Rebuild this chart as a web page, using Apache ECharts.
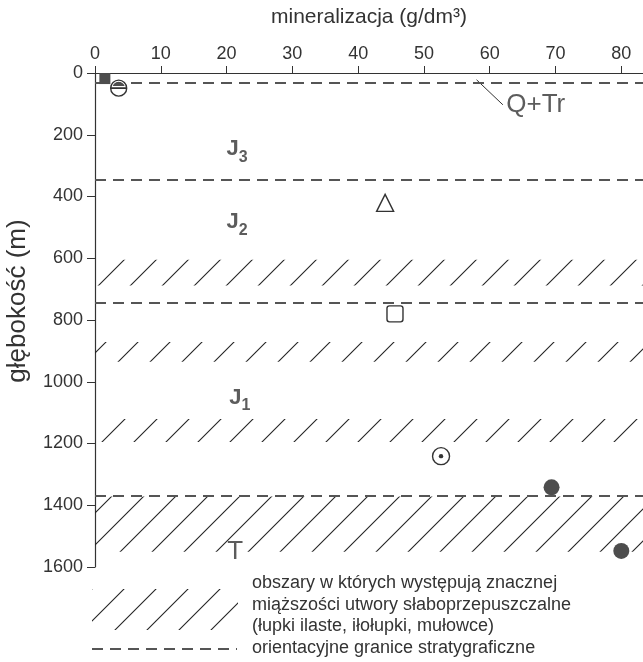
<!DOCTYPE html>
<html>
<head>
<meta charset="utf-8">
<script src="https://cdn.jsdelivr.net/npm/echarts@6/dist/echarts.min.js"></script>
<style>
  html, body { margin: 0; padding: 0; background: #fff; }
  #chart { width: 643px; height: 662px; }
</style>
</head>
<body>
<div id="chart"></div>
<script>
const xTicks = [0, 10, 20, 30, 40, 50, 60, 70, 80];
const xMax = 83.3;
const depthMax = 1600;

// samples: mineralization (g/dm3) vs depth (m)
const sampleMineralization = [1.5, 3.6, 44.1, 45.6, 52.6, 69.4, 80.0];
const sampleDepth = [18, 49, 424, 780, 1241, 1342, 1548];
const sampleMarker = ["filledSquare", "struckCircle", "triangle", "square", "dotCircle", "filledCircle", "filledCircle"];

// stratigraphic boundaries and low-permeability intervals (m)
const boundaryDepths = [30, 345, 745, 1370];
const lowPermBands = [[605, 688], [871, 935], [1121, 1195], [1372, 1551]];

// unit labels
const unitNames = ["J|3", "J|2", "J|1", "T|"];
const unitX = [21.6, 21.6, 22.0, 21.3];
const unitDepth = [255, 492, 1059, 1552];
const qtrLabel = { name: "Q+Tr", x: 67.0, depth: 103 };
const qtrLeader = [[58.0, 22], [62.0, 103]];

const FONT = "'Liberation Sans', Arial, sans-serif";
const INK = "#333";
const GREY = "#4d4d4d";

function hatchPattern() {
  const s = 32;
  const c = document.createElement("canvas");
  c.width = s;
  c.height = s;
  const ctx = c.getContext("2d");
  ctx.strokeStyle = "#222";
  ctx.lineWidth = 1.1;
  [0, s, 2 * s].forEach((k) => {
    ctx.beginPath();
    ctx.moveTo(-2, k + 2);
    ctx.lineTo(k + 2, -2);
    ctx.stroke();
  });
  return { image: c, repeat: "repeat" };
}
const hatch = hatchPattern();

function segmentPoints(cx, cy, r, chordDy) {
  // circular segment above the chord at cy + chordDy
  const a = Math.asin(chordDy / r);
  const pts = [];
  for (let i = 0; i <= 16; i++) {
    const t = Math.PI - a + (Math.PI + 2 * a) * (i / 16);
    pts.push([cx + r * Math.cos(t), cy + r * Math.sin(t)]);
  }
  return pts;
}

function renderMarker(params, api) {
  const p = api.coord([api.value(0), api.value(1)]);
  const x = p[0], y = p[1];
  const kind = sampleMarker[params.dataIndex];
  const line = { stroke: INK, fill: "#fff", lineWidth: 1.4 };
  let children = [];
  if (kind === "filledSquare") {
    children = [{ type: "rect", shape: { x: x - 5.5, y: y - 5.5, width: 11, height: 11 }, style: { fill: GREY } }];
  } else if (kind === "struckCircle") {
    children = [
      { type: "circle", shape: { cx: x, cy: y, r: 8 }, style: line },
      { type: "polygon", shape: { points: segmentPoints(x, y, 6.3, -2.2) }, style: { fill: GREY } },
      { type: "line", shape: { x1: x - 8, y1: y, x2: x + 8, y2: y }, style: { stroke: INK, lineWidth: 1.8 } },
    ];
  } else if (kind === "triangle") {
    children = [{ type: "polygon", shape: { points: [[x, y - 9.5], [x - 8.5, y + 7.5], [x + 8.5, y + 7.5]] }, style: line }];
  } else if (kind === "square") {
    children = [{ type: "rect", shape: { x: x - 8, y: y - 8, width: 16, height: 16, r: 2.5 }, style: line }];
  } else if (kind === "dotCircle") {
    children = [
      { type: "circle", shape: { cx: x, cy: y, r: 8.5 }, style: line },
      { type: "circle", shape: { cx: x, cy: y, r: 2.2 }, style: { fill: INK } },
    ];
  } else {
    children = [{ type: "circle", shape: { cx: x, cy: y, r: 8 }, style: { fill: GREY } }];
  }
  return { type: "group", children };
}

const chart = echarts.init(document.getElementById("chart"));

const legendLines = [
  "obszary w których występują znacznej",
  "miąższości utwory słaboprzepuszczalne",
  "(łupki ilaste, iłołupki, mułowce)",
];

const option = {
  backgroundColor: "#fff",
  animation: false,
  grid: { left: 95, top: 73, width: 548, height: 494, outerBoundsMode: "none", containLabel: false },
  xAxis: {
    type: "value",
    position: "top",
    min: 0,
    max: xMax,
    interval: 10,
    name: "mineralizacja (g/dm³)",
    nameLocation: "middle",
    nameGap: 45,
    nameTextStyle: { fontFamily: FONT, fontSize: 21, color: INK },
    axisLine: { lineStyle: { color: INK, width: 1.2 } },
    axisTick: { length: 7, customValues: xTicks, lineStyle: { color: INK } },
    axisLabel: {
      customValues: xTicks,
      margin: 10,
      fontFamily: FONT,
      fontSize: 18,
      color: INK,
      formatter: (v) => (v % 10 === 0 ? String(v) : ""),
    },
    splitLine: { show: false },
  },
  yAxis: {
    type: "value",
    inverse: true,
    min: 0,
    max: depthMax,
    interval: 200,
    axisLine: { show: true, lineStyle: { color: INK, width: 1.2 } },
    axisTick: { length: 8, lineStyle: { color: INK } },
    axisLabel: { margin: 12, fontFamily: FONT, fontSize: 18, color: INK, formatter: (v) => String(v) },
    splitLine: { show: false },
  },
  series: [
    {
      type: "line",
      data: [],
      silent: true,
      markArea: {
        silent: true,
        itemStyle: { color: hatch },
        data: lowPermBands.map((b) => [{ xAxis: 0, yAxis: b[0] }, { xAxis: xMax, yAxis: b[1] }]),
      },
      markLine: {
        silent: true,
        symbol: ["none", "none"],
        label: { show: false },
        lineStyle: { color: "#555", width: 2, type: [11, 7] },
        data: boundaryDepths.map((d) => ({ yAxis: d })),
      },
    },
    {
      type: "line",
      silent: true,
      symbol: "none",
      lineStyle: { color: INK, width: 1 },
      data: qtrLeader,
    },
    {
      type: "custom",
      renderItem: renderMarker,
      data: sampleMineralization.map((v, i) => [v, sampleDepth[i]]),
      z: 5,
    },
    {
      type: "scatter",
      silent: true,
      symbolSize: 0,
      data: unitNames.map((n, i) => ({ name: n, value: [unitX[i], unitDepth[i]] })),
      label: {
        show: true,
        position: "inside",
        formatter: (p) => {
          const parts = p.name.split("|");
          if (!parts[1]) return "{t|" + parts[0] + "}";
          return "{j|" + parts[0] + "}{s|" + parts[1] + "}";
        },
        rich: {
          j: { fontFamily: FONT, fontSize: 22, fontWeight: "bold", color: INK, verticalAlign: "bottom", padding: [0, 0, 5, 0] },
          s: { fontFamily: FONT, fontSize: 16, fontWeight: "bold", color: INK, verticalAlign: "bottom" },
          t: { fontFamily: FONT, fontSize: 26, color: INK },
        },
      },
    },
    {
      type: "scatter",
      silent: true,
      symbolSize: 0,
      data: [{ name: qtrLabel.name, value: [qtrLabel.x, qtrLabel.depth] }],
      label: { show: true, position: "inside", formatter: "{b}", fontFamily: FONT, fontSize: 26, color: INK },
    },
  ],
  graphic: [
    {
      type: "text",
      x: 18,
      y: 301,
      rotation: Math.PI / 2,
      style: { text: "głębokość (m)", font: "26px " + FONT, fill: INK, align: "center", verticalAlign: "middle" },
    },
    { type: "rect", left: 92, top: 589, shape: { width: 146, height: 41 }, style: { fill: hatch } },
    { type: "line", shape: { x1: 92, y1: 649, x2: 237, y2: 649 }, style: { stroke: "#555", lineWidth: 2, lineDash: [11, 7] } },
    ...legendLines.map((t, i) => ({
      type: "text",
      x: 252,
      y: 583 + i * 21.7,
      style: { text: t, font: "18px " + FONT, fill: INK, verticalAlign: "middle" },
    })),
    {
      type: "text",
      x: 252,
      y: 648,
      style: { text: "orientacyjne granice stratygraficzne", font: "18px " + FONT, fill: INK, verticalAlign: "middle" },
    },
  ],
};

chart.setOption(option);
</script>
</body>
</html>
